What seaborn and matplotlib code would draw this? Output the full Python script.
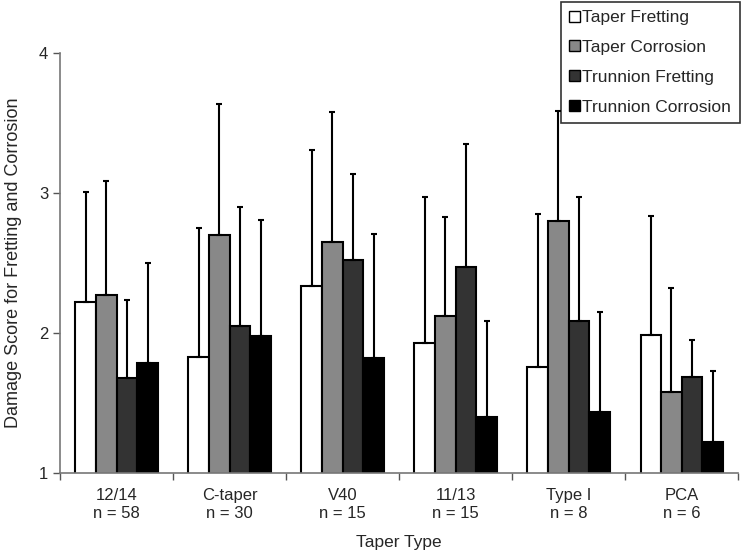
import numpy as np
import pandas as pd
import matplotlib
matplotlib.use('Agg')
import matplotlib.pyplot as plt
import seaborn as sns
from matplotlib.patches import Patch
from matplotlib.ticker import FixedLocator

sns.set_theme(style='white')
plt.rcParams['font.family'] = ['Liberation Sans', 'DejaVu Sans']

# data
taper_types = ['12/14', 'C-taper', 'V40', '11/13', 'Type I', 'PCA']
n_counts = [58, 30, 15, 15, 8, 6]
series = ['Taper Fretting', 'Taper Corrosion', 'Trunnion Fretting', 'Trunnion Corrosion']

taper_fretting = [2.22, 1.83, 2.34, 1.93, 1.76, 1.99]
taper_corrosion = [2.27, 2.70, 2.65, 2.12, 2.80, 1.58]
trunnion_fretting = [1.68, 2.05, 2.52, 2.47, 2.09, 1.69]
trunnion_corrosion = [1.79, 1.98, 1.82, 1.40, 1.44, 1.22]

taper_fretting_sd = [0.79, 0.92, 0.97, 1.04, 1.09, 0.85]
taper_corrosion_sd = [0.82, 0.94, 0.93, 0.71, 0.79, 0.74]
trunnion_fretting_sd = [0.56, 0.85, 0.62, 0.88, 0.88, 0.26]
trunnion_corrosion_sd = [0.71, 0.83, 0.89, 0.69, 0.71, 0.51]

means = [taper_fretting, taper_corrosion, trunnion_fretting, trunnion_corrosion]
sds = [taper_fretting_sd, taper_corrosion_sd, trunnion_fretting_sd, trunnion_corrosion_sd]
colors = ['white', '#888888', '#333333', 'black']

rows = []
for s, m, e in zip(series, means, sds):
    for t, v, d in zip(taper_types, m, e):
        rows.append({'Taper Type': t, 'Series': s, 'Score': v, 'SD': d})
df = pd.DataFrame(rows)

fig = plt.figure(figsize=(7.42, 5.54), dpi=100)
ax = fig.add_axes([0.081, 0.146, 0.914, 0.758])

sns.barplot(data=df, x='Taper Type', y='Score', hue='Series', order=taper_types,
            hue_order=series, palette=colors, edgecolor='black', linewidth=1.5,
            width=0.73, errorbar=None, legend=False, ax=ax)

# upward-only error bars on each bar
for container, s in zip(ax.containers, series):
    sub = df[df['Series'] == s].set_index('Taper Type').loc[taper_types]
    xs = [p.get_x() + p.get_width() / 2 for p in container.patches]
    ax.errorbar(xs, sub['Score'].values, yerr=[np.zeros(len(xs)), sub['SD'].values],
                fmt='none', ecolor='black', elinewidth=1.5, capsize=2.5, capthick=1.5)

ax.set_ylim(1, 4)
ax.set_xlim(-0.5, len(taper_types) - 0.5)
ax.set_yticks([1, 2, 3, 4])
ax.set_xticks(range(len(taper_types)))
ax.set_xticklabels([f'{t}\nn = {n}' for t, n in zip(taper_types, n_counts)], fontsize=12)
ax.xaxis.set_minor_locator(FixedLocator(np.arange(-0.5, len(taper_types), 1.0)))
ax.tick_params(axis='x', which='major', length=0, pad=11)
ax.tick_params(axis='x', which='minor', length=5, color='#555555', width=1, bottom=True)
ax.tick_params(axis='y', length=5, color='#555555', width=1, left=True, labelsize=12)

for side in ['top', 'right']:
    ax.spines[side].set_visible(False)
for side in ['left', 'bottom']:
    ax.spines[side].set_color('#777777')
    ax.spines[side].set_linewidth(1.2)

ax.set_xlabel('Taper Type', fontsize=12.5, labelpad=10)
ax.set_ylabel('Damage Score for Fretting and Corrosion', fontsize=13, labelpad=12)

handles = [Patch(facecolor=c, edgecolor='black', linewidth=1) for c in colors]
leg = fig.legend(handles, series, loc='upper right', bbox_to_anchor=(0.997, 0.997),
                 frameon=True, fancybox=False, fontsize=12.5, handlelength=0.6,
                 handleheight=0.6, handletextpad=0.15, labelspacing=0.85,
                 borderpad=0.5, borderaxespad=0)
leg.get_frame().set_edgecolor('black')
leg.get_frame().set_linewidth(1.2)

plt.savefig('out.png', dpi=100)
